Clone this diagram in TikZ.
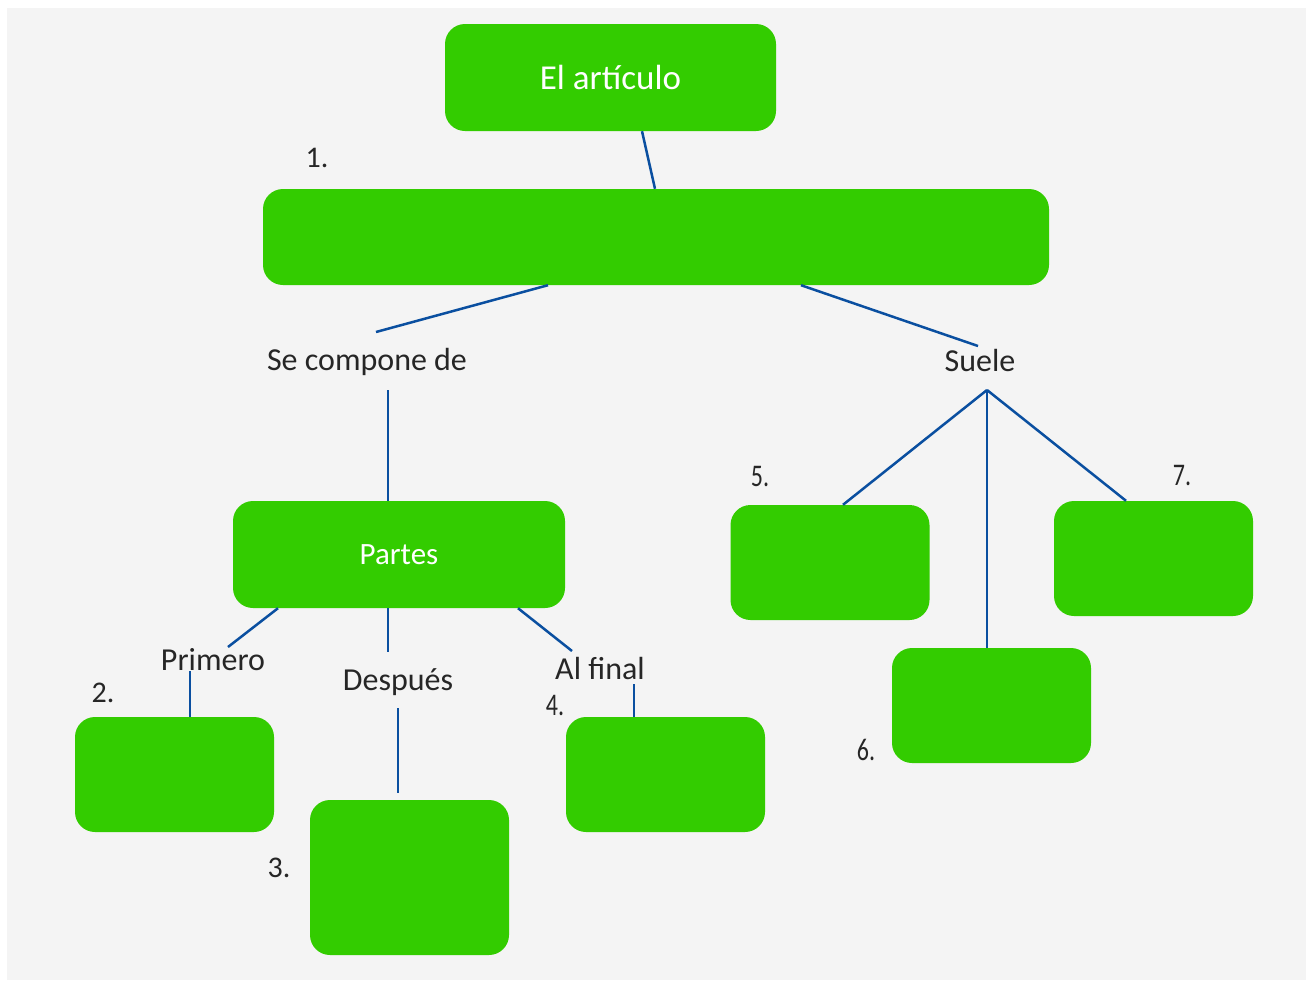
\documentclass[tikz,border=0pt]{standalone}
\usepackage{fontspec}
\setmainfont{Carlito}
\usepackage{graphicx}

\definecolor{boxgreen}{HTML}{33CC00}
\definecolor{linkblue}{HTML}{0A4FA0}
\definecolor{paper}{HTML}{F4F4F4}

\tikzset{
  box/.style={fill=boxgreen, rounded corners=20pt, inner sep=0pt, text=white,
    font=\fontsize{31}{36}\selectfont},
  smallbox/.style={box, minimum width=199pt, minimum height=115pt},
  link/.style={draw=linkblue, line width=2.5pt},
  word/.style={inner sep=0pt, text=black!85, font=\fontsize{32}{38}\selectfont},
  num/.style={inner sep=0pt, text=black!85, font=\fontsize{30}{36}\selectfont}
}
\newcommand{\narrow}[1]{\scalebox{0.8}[1.05]{#1}}

\begin{document}
\begin{tikzpicture}[x=1pt,y=-1pt]

\useasboundingbox (0,0) rectangle (1306,980);
\fill[white] (0,0) rectangle (1306,980);
\fill[paper] (7,8) rectangle (1306,980);

% boxes
\node[box, minimum width=331pt, minimum height=107pt, font=\fontsize{35}{40}\selectfont] (art) at (610.5,77.5) {El artículo};
\node[box, minimum width=786pt, minimum height=96pt] (main) at (656,237) {};
\node[box, minimum width=332pt, minimum height=107pt] (partes) at (399,554.5) {Partes};
\node[smallbox] (b2) at (174.5,774.5) {};
\node[smallbox, minimum height=155pt] (b3) at (409.5,877.5) {};
\node[smallbox] (b4) at (665.5,774.5) {};
\node[smallbox] (b5) at (830,562.5) {};
\node[smallbox] (b6) at (991.5,705.5) {};
\node[smallbox] (b7) at (1153.5,558.5) {};

% labels
\node[word] (compone) at (367,362) {Se compone de};
\node[word] (suele) at (980,361) {Suele};
\node[word] (primero) at (213,660) {Primero};
\node[word] (despues) at (398,682) {Después};
\node[word] (alfinal) at (600,668) {Al final};

\node[num] (n1) at (317,158) {1.};
\node[num] (n2) at (103,693) {2.};
\node[num] (n3) at (279,868) {3.};
\node[num] (n4) at (555,705) {\narrow{4.}};
\node[num] (n5) at (760,477) {\narrow{5.}};
\node[num] (n6) at (866,750) {\narrow{6.}};
\node[num] (n7) at (1182,476) {\narrow{7.}};

% loose ends next to the labels
\coordinate (c1) at (376,332);
\coordinate (c2) at (978,346);
\coordinate (c3) at (388,390);
\coordinate (s0) at (987,390);
\coordinate (p1) at (228,647);
\coordinate (p2) at (388,652);
\coordinate (p3) at (572,651);
\coordinate (q1) at (190,671);
\coordinate (q2) at (398,708);
\coordinate (q3) at (398,793);
\coordinate (q4) at (634,684);

% connectors
\draw[link] (art.south -| 642,0) -- (main.north -| 655,0);
\draw[link] (main.south -| 548,0) -- (c1);
\draw[link] (main.south -| 801,0) -- (c2);
\draw[link] (c3) -- (partes.north -| c3);
\draw[link] (s0) -- (b5.north -| 843,0);
\draw[link] (s0) -- (b6.north -| s0);
\draw[link] (s0) -- (b7.north -| 1126,0);
\draw[link] (partes.south -| 278,0) -- (p1);
\draw[link] (partes.south -| p2) -- (p2);
\draw[link] (partes.south -| 518,0) -- (p3);
\draw[link] (q1) -- (b2.north -| q1);
\draw[link] (q2) -- (q3);
\draw[link] (q4) -- (b4.north -| q4);

\end{tikzpicture}
\end{document}
